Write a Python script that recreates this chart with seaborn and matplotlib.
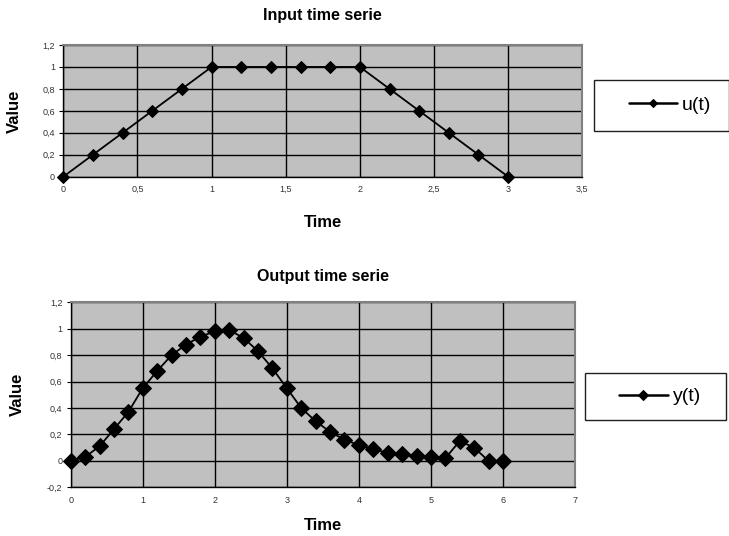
import matplotlib
matplotlib.use("Agg")
import matplotlib.pyplot as plt
import seaborn as sns
import pandas as pd
from matplotlib.patches import Rectangle
from matplotlib.ticker import FixedLocator, FixedFormatter

# ---- data ----
u_time = [0.0, 0.2, 0.4, 0.6, 0.8, 1.0, 1.2, 1.4, 1.6, 1.8, 2.0, 2.2, 2.4, 2.6, 2.8, 3.0]
u_values = [0.0, 0.2, 0.4, 0.6, 0.8, 1.0, 1.0, 1.0, 1.0, 1.0, 1.0, 0.8, 0.6, 0.4, 0.2, 0.0]

y_time = [0.0, 0.2, 0.4, 0.6, 0.8, 1.0, 1.2, 1.4, 1.6, 1.8, 2.0, 2.2, 2.4, 2.6, 2.8, 3.0,
          3.2, 3.4, 3.6, 3.8, 4.0, 4.2, 4.4, 4.6, 4.8, 5.0, 5.2, 5.4, 5.6, 5.8, 6.0]
y_values = [0.0, 0.03, 0.11, 0.24, 0.37, 0.55, 0.68, 0.80, 0.88, 0.94, 0.98, 0.99, 0.93,
            0.83, 0.70, 0.55, 0.40, 0.30, 0.22, 0.16, 0.12, 0.09, 0.06, 0.05, 0.04, 0.03,
            0.02, 0.15, 0.10, 0.0, 0.0]

top_xticks = [0, 0.5, 1, 1.5, 2, 2.5, 3, 3.5]
top_xlabels = ["0", "0,5", "1", "1,5", "2", "2,5", "3", "3,5"]
top_yticks = [0, 0.2, 0.4, 0.6, 0.8, 1.0, 1.2]
top_ylabels = ["0", "0,2", "0,4", "0,6", "0,8", "1", "1,2"]

bot_xticks = [0, 1, 2, 3, 4, 5, 6, 7]
bot_xlabels = ["0", "1", "2", "3", "4", "5", "6", "7"]
bot_yticks = [-0.2, 0, 0.2, 0.4, 0.6, 0.8, 1.0, 1.2]
bot_ylabels = ["-0,2", "0", "0,2", "0,4", "0,6", "0,8", "1", "1,2"]

df_u = pd.DataFrame({"Time": u_time, "Value": u_values})
df_y = pd.DataFrame({"Time": y_time, "Value": y_values})

sns.set_theme(style="white")
plt.rcParams["font.family"] = ["Liberation Sans", "DejaVu Sans"]
plt.rcParams["text.color"] = "black"
plt.rcParams["axes.labelcolor"] = "black"
plt.rcParams["axes.titlecolor"] = "black"

W, H = 729, 536
fig = plt.figure(figsize=(W / 100, H / 100), dpi=100)


def fx(px):
    return px / W


def fy(py):
    return 1 - py / H


def style_axes(ax, xticks, xlabels, yticks, ylabels, xlim, ylim):
    ax.set_facecolor("#C0C0C0")
    ax.set_xlim(*xlim)
    ax.set_ylim(*ylim)
    ax.xaxis.set_major_locator(FixedLocator(xticks))
    ax.xaxis.set_major_formatter(FixedFormatter(xlabels))
    ax.yaxis.set_major_locator(FixedLocator(yticks))
    ax.yaxis.set_major_formatter(FixedFormatter(ylabels))
    ax.grid(True, color="black", linewidth=1.0)
    ax.set_axisbelow(True)
    for s in ["left", "bottom"]:
        ax.spines[s].set_color("black")
        ax.spines[s].set_linewidth(1.0)
    for s in ["top", "right"]:
        ax.spines[s].set_color("#808080")
        ax.spines[s].set_linewidth(1.5)
    ax.tick_params(axis="both", which="major", labelsize=6.5, labelcolor="#333333",
                   length=3, width=0.8, color="black", direction="out")
    ax.tick_params(axis="x", length=0, pad=6)
    ax.tick_params(axis="y", pad=3, left=True)


def add_legend(ax, box, text_center):
    x0, y0, x1, y1 = box
    rect = Rectangle((fx(x0), fy(y1)), fx(x1) - fx(x0), fy(y0) - fy(y1),
                     transform=fig.transFigure, facecolor="white",
                     edgecolor="#202020", linewidth=1.0, zorder=-1)
    fig.patches.append(rect)
    leg = ax.legend(loc="center", bbox_to_anchor=(fx(text_center[0]), fy(text_center[1])),
                    bbox_transform=fig.transFigure, frameon=False, fontsize=14,
                    handlelength=2.5, handletextpad=0.25, markerscale=0.7,
                    borderpad=0, borderaxespad=0)
    for ln in leg.get_lines():
        ln.set_linewidth(1.8)
    for t in leg.get_texts():
        t.set_color("black")
    leg.set_zorder(5)
    return leg


# ---- top chart ----
ax1 = fig.add_axes([fx(63.3), fy(176.7), fx(582.3) - fx(63.3), fy(45) - fy(176.7)])
sns.lineplot(data=df_u, x="Time", y="Value", ax=ax1, color="black", marker="D",
             markersize=6.5, markeredgecolor="black", linewidth=1.3, label="u(t)",
             clip_on=False, zorder=4)
style_axes(ax1, top_xticks, top_xlabels, top_yticks, top_ylabels, (0, 3.5), (0, 1.2))
ax1.set_title("Input time serie", fontsize=11.5, fontweight="bold", y=1.227, va="center", pad=0)
ax1.set_xlabel("Time", fontsize=12, fontweight="bold")
ax1.xaxis.set_label_coords(0.5, (176.7 - 222) / 131.7)
ax1.xaxis.label.set_va("center")
ax1.set_ylabel("Value", fontsize=12, fontweight="bold")
ax1.yaxis.set_label_coords((14 - 63.3) / 519.0, 0.5)
ax1.yaxis.label.set_va("center")
add_legend(ax1, (594, 80, 729, 131), (670, 105.5))

# ---- bottom chart ----
ax2 = fig.add_axes([fx(70.7), fy(487.3), fx(575) - fx(70.7), fy(302.3) - fy(487.3)])
sns.lineplot(data=df_y, x="Time", y="Value", ax=ax2, color="black", marker="D",
             markersize=8, markeredgecolor="black", linewidth=1.3, label="y(t)",
             clip_on=False, zorder=4)
style_axes(ax2, bot_xticks, bot_xlabels, bot_yticks, bot_ylabels, (0, 7), (-0.2, 1.2))
ax2.set_title("Output time serie", fontsize=11.5, fontweight="bold", y=1.137, va="center", pad=0)
ax2.set_xlabel("Time", fontsize=12, fontweight="bold")
ax2.xaxis.set_label_coords(0.5, (487.3 - 525) / 185.0)
ax2.xaxis.label.set_va("center")
ax2.set_ylabel("Value", fontsize=12, fontweight="bold")
ax2.yaxis.set_label_coords((17 - 70.7) / 504.3, 0.5)
ax2.yaxis.label.set_va("center")
add_legend(ax2, (585, 373, 726, 420), (660, 396.5))

fig.savefig("out.png", dpi=100)
